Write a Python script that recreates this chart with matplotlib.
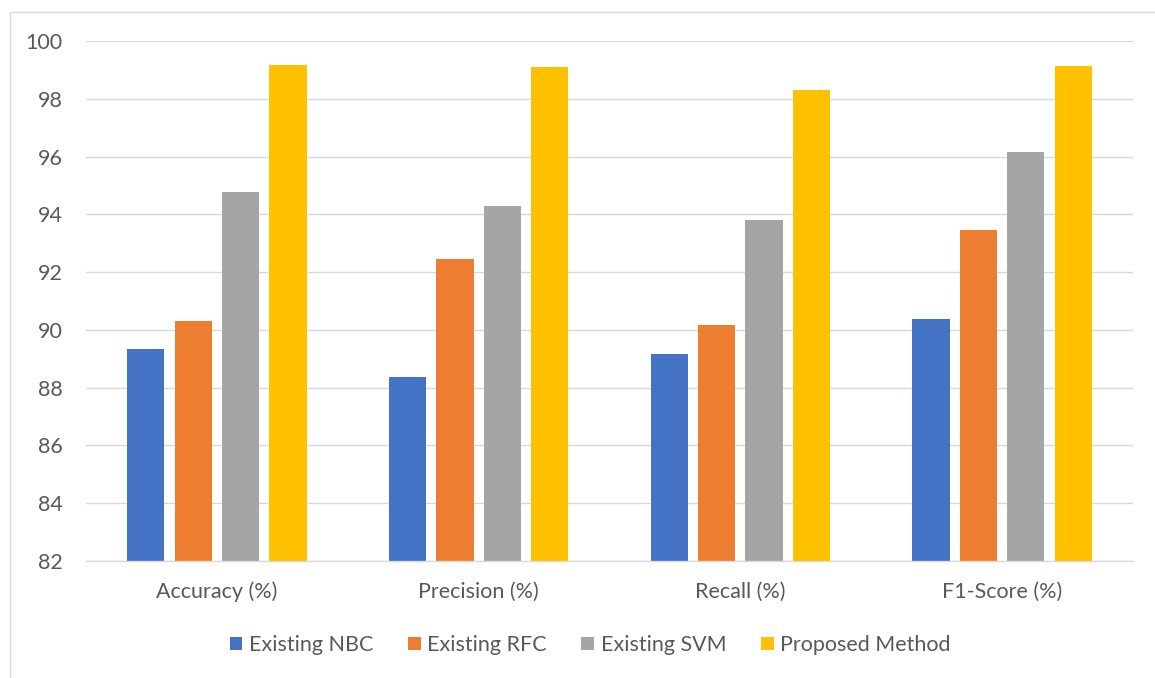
import matplotlib
matplotlib.use("Agg")
import matplotlib.pyplot as plt
import numpy as np
from matplotlib.patches import Rectangle, Patch

categories = ["Accuracy (%)", "Precision (%)", "Recall (%)", "F1-Score (%)"]
series_names = ["Existing NBC", "Existing RFC", "Existing SVM", "Proposed Method"]
nbc = [89.35, 88.36, 89.17, 90.37]
rfc = [90.32, 92.46, 90.17, 93.47]
svm = [94.77, 94.28, 93.82, 96.17]
proposed = [99.17, 99.11, 98.29, 99.14]
yticks = [82, 84, 86, 88, 90, 92, 94, 96, 98, 100]
colors = ["#4472C4", "#ED7D31", "#A5A5A5", "#FFC000"]

plt.rcParams['font.family'] = ['Lato', 'DejaVu Sans']
text_color = "#595959"

W, H = 1155, 678
fig = plt.figure(figsize=(W / 100, H / 100), dpi=100)
ax = fig.add_axes([86 / W, 1 - 561 / H, (1133 - 86) / W, (561 - 41) / H])

x = np.arange(len(categories))
bw = 0.142
pitch = 0.181
all_series = [nbc, rfc, svm, proposed]
for i, (vals, name, c) in enumerate(zip(all_series, series_names, colors)):
    offs = (i - 1.5) * pitch
    ax.bar(x + offs, [v - yticks[0] for v in vals], bottom=yticks[0], width=bw,
           color=c, label=name, zorder=3)

ax.set_xlim(-0.5, len(categories) - 0.5)
ax.set_ylim(yticks[0], yticks[-1])
ax.set_yticks(yticks)
ax.set_xticks(x)
ax.set_xticklabels(categories)
ax.grid(axis='y', color='#D9D9D9', linewidth=1.0, zorder=0)
for s in ["top", "right", "left"]:
    ax.spines[s].set_visible(False)
ax.spines["bottom"].set_color('#D9D9D9')
ax.spines["bottom"].set_linewidth(1.0)
ax.spines["bottom"].set_zorder(4)
ax.tick_params(axis='both', length=0, labelsize=15.5, labelcolor=text_color)
ax.tick_params(axis='x', pad=15)
ax.tick_params(axis='y', pad=17)

handles = [Patch(facecolor=c, edgecolor='none') for c in colors]
fig.legend(handles, series_names, loc='center', bbox_to_anchor=(590 / W, 1 - 645 / H),
           ncol=4, frameon=False, fontsize=15.5, labelcolor=text_color,
           handlelength=0.6, handleheight=0.6, handletextpad=0.3, columnspacing=1.6)

# outer chart border (partially visible)
fig.patches.append(Rectangle((10 / W, -0.05), 1.2, 1 - 12 / H + 0.05, transform=fig.transFigure,
                             fill=False, edgecolor='#D9D9D9', linewidth=1.0))

fig.savefig("out.png", dpi=100)
